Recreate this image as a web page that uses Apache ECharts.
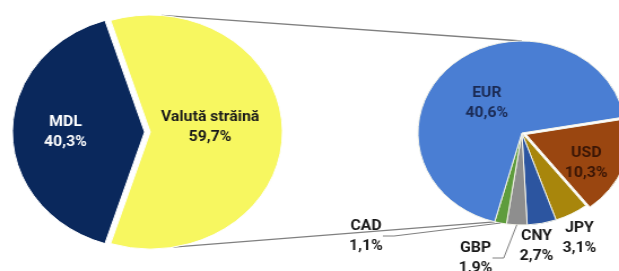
<!DOCTYPE html>
<html><head><meta charset="utf-8">
<script src="https://cdn.jsdelivr.net/npm/echarts@6/dist/echarts.min.js"></script>
<style>
html,body{margin:0;padding:0;background:#fff;overflow:hidden;}
#wrap{width:619px;height:271px;overflow:hidden;}
#c{width:548px;height:271px;transform:scaleX(1.1296);transform-origin:0 0;}
</style></head><body><div id="wrap"><div id="c"></div></div>
<script>
// ---- data ----
const mainNames = ['Valută străină', 'MDL'];
const mainValues = [59.7, 40.3];
const subNames = ['USD', 'JPY', 'CNY', 'GBP', 'CAD', 'EUR'];
const subValues = [10.3, 3.1, 2.7, 1.9, 1.1, 40.6];

// ---- style / layout ----
const mainColors = ['#f7f760', '#0a285c'];
const subColors = ['#9a4610', '#a8860c', '#2c55a0', '#8e8e8e', '#5e9c3c', '#4a7ed3'];
const L = { cx: 133, cy: 132, r: 117, start: 360 * mainValues[0] / 100 / 2 };
const R = { cx: 462, cy: 133, r: 92, start: 10 };
const FONT = 'Roboto';

function fmt(p) { return p.name + '\n' + String(p.value).replace('.', ',') + '%'; }

// label placement relative to each pie's centre
const mainLabelPos = { 'MDL': [-75, 0], 'Valută străină': [53, -5] };
const subLabelPos = {
  'EUR': [-31, -30], 'USD': [57, 30], 'JPY': [51, 105],
  'CNY': [13, 113], 'GBP': [-41, 125], 'CAD': [-138, 103]
};
const labelColor = { 'MDL': '#ffffff', 'Valută străină': '#1a1a1a', 'EUR': '#1b2b55', 'USD': '#3a1606' };

function pt(c, ang, rr) {
  const a = ang * Math.PI / 180;
  return [c.cx + rr * Math.cos(a), c.cy - rr * Math.sin(a)];
}
const subTotal = subValues.reduce((a, b) => a + b, 0);
const smallSum = subValues.slice(0, subValues.length - 1).reduce((a, b) => a + b, 0);
const cadEnd = R.start - 360 * smallSum / subTotal;
const up1 = pt(L, 85, L.r), up2 = pt(R, 90, R.r);
const lo1 = pt(L, -80, L.r), lo2 = pt(R, cadEnd, R.r);

const baseLabel = { fontFamily: FONT, fontWeight: 'bold', fontSize: 14, lineHeight: 20, color: '#1a1a1a', formatter: fmt };

function visualPie(c, names, values, colors, explodeName, offset, border) {
  return {
    type: 'pie', center: [c.cx, c.cy], radius: c.r, startAngle: c.start, clockwise: true,
    selectedMode: 'single', selectedOffset: offset, silent: true, z: 2,
    itemStyle: { borderColor: border, borderWidth: 1 },
    label: { show: false }, labelLine: { show: false },
    data: names.map((n, i) => ({ name: n, value: values[i], selected: n === explodeName, itemStyle: { color: colors[i] } }))
  };
}
function labelPie(c, names, values, pos, lineNames) {
  return {
    type: 'pie', center: [c.cx, c.cy], radius: c.r, startAngle: c.start, clockwise: true,
    silent: true, z: 3, avoidLabelOverlap: false,
    itemStyle: { color: 'rgba(0,0,0,0)', borderWidth: 0 },
    label: Object.assign({ position: 'outside' }, baseLabel),
    labelLine: { show: true, length: 10, length2: 10, lineStyle: { color: '#808080', width: 1 } },
    labelLayout: p => {
      const s = pos[names[p.dataIndex]];
      return { x: c.cx + s[0], y: c.cy + s[1], align: 'center', verticalAlign: 'middle' };
    },
    data: names.map((n, i) => ({
      name: n, value: values[i],
      label: { color: labelColor[n] || '#1a1a1a' },
      labelLine: { show: lineNames.indexOf(n) >= 0 }
    }))
  };
}

const chart = echarts.init(document.getElementById('c'), null, { renderer: 'canvas' });
chart.setOption({
  animation: false,
  backgroundColor: '#fff',
  graphic: [
    { type: 'line', z: 0, shape: { x1: up1[0], y1: up1[1], x2: up2[0], y2: up2[1] }, style: { stroke: '#808080', lineWidth: 1.3 } },
    { type: 'line', z: 0, shape: { x1: lo1[0], y1: lo1[1], x2: lo2[0], y2: lo2[1] }, style: { stroke: '#808080', lineWidth: 1.3 } }
  ],
  series: [
    visualPie(L, mainNames, mainValues, mainColors, 'MDL', 5, '#ffffff'),
    visualPie(R, subNames, subValues, subColors, 'USD', 4, '#f4f4ea'),
    labelPie(L, mainNames, mainValues, mainLabelPos, []),
    labelPie(R, subNames, subValues, subLabelPos, ['CAD', 'GBP'])
  ]
});
</script></body></html>
